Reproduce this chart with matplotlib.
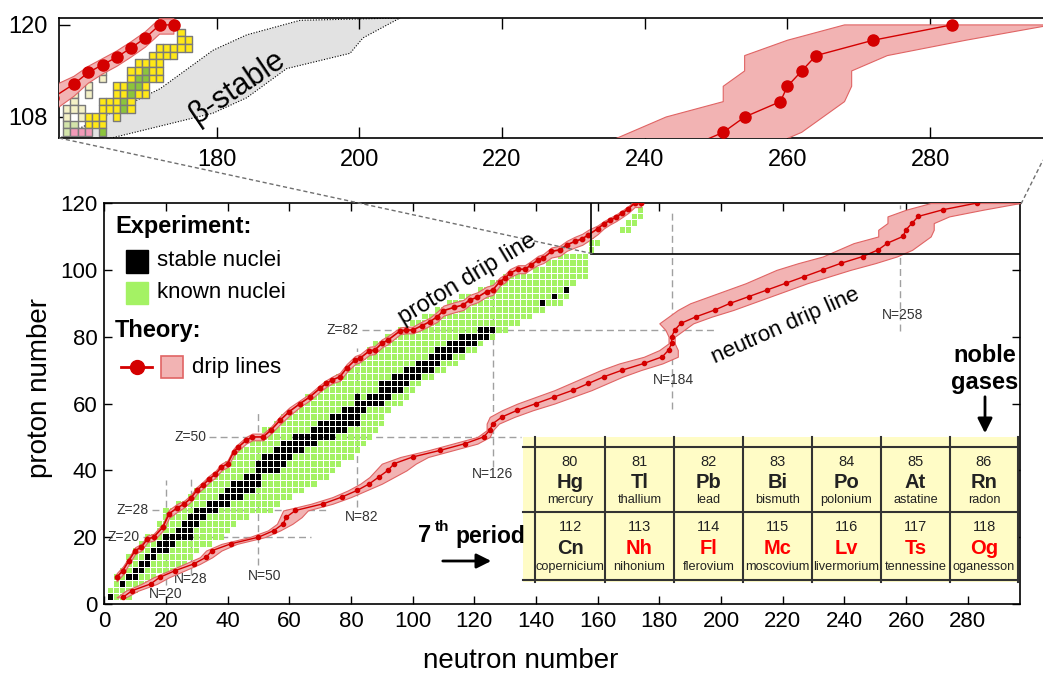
import matplotlib
matplotlib.use("Agg")
import matplotlib.pyplot as plt
from matplotlib.patches import Rectangle, Polygon
from matplotlib.collections import PatchCollection
import numpy as np

plt.rcParams['font.family'] = ['Liberation Sans', 'DejaVu Sans']

# --- experiment: even-even grid, known range of N for each even Z ---
known_z = [2, 4, 6, 8, 10, 12, 14, 16, 18, 20, 22, 24, 26, 28, 30, 32, 34, 36, 38, 40,
           42, 44, 46, 48, 50, 52, 54, 56, 58, 60, 62, 64, 66, 68, 70, 72, 74, 76, 78, 80,
           82, 84, 86, 88, 90, 92, 94, 96, 98, 100, 102, 104, 106, 108, 110, 112, 114, 116, 118]
known_lo = [2, 2, 4, 4, 6, 8, 8, 10, 12, 14, 18, 18, 20, 20, 24, 28, 30, 34, 36, 38,
            40, 42, 44, 48, 50, 52, 56, 58, 62, 64, 66, 70, 72, 76, 80, 82, 84, 86, 88, 92,
            96, 100, 104, 108, 112, 116, 122, 126, 130, 140, 144, 148, 158, 158, 158, 168, 170, 172, 174]
known_hi = [8, 10, 14, 16, 22, 26, 28, 30, 34, 38, 40, 42, 46, 54, 56, 60, 64, 68, 72, 74,
            76, 80, 82, 84, 86, 88, 90, 90, 92, 96, 98, 100, 102, 106, 110, 114, 116, 120, 122, 126,
            130, 134, 138, 142, 148, 150, 150, 152, 156, 156, 156, 156, 158, 160, 158, 170, 172, 174, 174]

# stable even-even nuclei, N values for each Z
stable = {2: [2], 6: [6], 8: [8, 10], 10: [10, 12], 12: [12, 14], 14: [14, 16],
          16: [16, 18, 20], 18: [18, 20, 22], 20: [20, 22, 24, 26, 28], 22: [24, 26, 28],
          24: [26, 28, 30], 26: [28, 30, 32], 28: [30, 32, 34, 36], 30: [34, 36, 38, 40],
          32: [38, 40, 42, 44], 34: [40, 42, 44, 46, 48], 36: [42, 44, 46, 48, 50],
          38: [46, 48, 50], 40: [50, 52, 54, 56], 42: [50, 52, 54, 56, 58],
          44: [52, 54, 56, 58, 60], 46: [56, 58, 60, 62, 64], 48: [58, 60, 62, 64, 66, 68],
          50: [62, 64, 66, 68, 70, 72, 74], 52: [68, 70, 72, 74, 76, 78],
          54: [70, 72, 74, 76, 78, 80, 82], 56: [74, 76, 78, 80, 82], 58: [78, 80, 82, 84],
          60: [82, 84, 86, 88, 90], 62: [82, 86, 88, 90, 92], 64: [90, 92, 94, 96],
          66: [90, 92, 94, 96, 98], 68: [94, 96, 98, 100, 102], 70: [98, 100, 102, 104, 106],
          72: [102, 104, 106, 108], 74: [106, 108, 110, 112], 76: [108, 110, 112, 114, 116],
          78: [112, 114, 116, 118, 120], 80: [116, 118, 120, 122, 124], 82: [122, 124, 126],
          90: [142], 92: [146], 94: [150]}

# --- theory: two-proton drip line (N, Z) with band extent below / above in Z ---
pdl_n = [4, 6, 8, 10, 12, 14, 16, 19, 21, 23.5, 26, 28, 30, 32, 34, 36, 38, 40, 42, 43.5,
         46, 48, 51.5, 54, 57, 60, 63.5, 66.7, 70, 72, 74, 76.4, 78.6, 81.3, 83, 86, 87.7, 90,
         92, 96, 98, 100, 103, 105.6, 108, 110, 113.5, 116.4, 118.5, 121, 124, 126, 128.3, 130,
         131.5, 134.2, 136.4, 138.5, 140.7, 142.3, 145, 147.7, 150, 152.6, 155, 157, 160, 162,
         164, 166, 168, 170, 172, 174]
pdl_z = [8, 10, 13, 16, 17, 19.5, 20, 23, 27, 28.7, 30, 31.6, 34, 35.6, 37.4, 38.8, 41, 42,
         45.6, 47, 49, 50, 50, 52, 55, 57.6, 60, 62, 64.6, 66, 67.1, 68, 70.6, 73, 73.6, 75.8,
         76, 78, 79, 81.8, 82, 82, 83.3, 84.5, 86, 87.8, 88.8, 89.5, 91, 91.8, 93.5, 94, 96.5,
         97.5, 99, 100.2, 100.2, 101.5, 103, 103.5, 105.5, 106, 107.5, 108.5, 109.3, 110.5,
         112.3, 113.8, 114.8, 115.8, 117, 118.3, 120, 120]
pdl_dn = [1.2, 1.2, 1.0, 1.0, 1.0, 1.0, 1.0, 1.0, 1.2, 1.2, 1.0, 1.0, 1.0, 1.0, 1.0, 1.0,
          1.0, 1.0, 1.0, 1.0, 1.0, 1.0, 1.0, 1.0, 1.2, 1.2, 1.0, 1.0, 1.0, 1.0, 1.0, 1.2,
          1.2, 1.2, 1.2, 1.2, 1.2, 1.2, 1.2, 1.0, 1.0, 1.0, 1.2, 1.2, 1.5, 1.5, 1.5, 1.5,
          1.5, 1.5, 1.5, 1.5, 1.2, 1.2, 1.2, 1.2, 1.2, 1.2, 1.5, 1.5, 1.8, 1.8, 1.8, 1.8,
          1.8, 1.8, 1.6, 1.4, 1.2, 1.2, 1.2, 1.2, 1.2, 1.2]
pdl_up = [1.2, 1.2, 1.0, 1.0, 1.0, 1.0, 1.0, 1.0, 1.2, 1.2, 1.0, 1.0, 1.0, 1.0, 1.0, 1.0,
          1.0, 1.0, 1.0, 1.0, 1.0, 1.0, 1.0, 1.0, 1.2, 1.2, 1.0, 1.0, 1.0, 1.0, 1.0, 1.2,
          1.2, 1.2, 1.2, 1.2, 1.2, 1.2, 1.2, 1.0, 1.0, 1.0, 1.2, 1.2, 1.5, 1.5, 1.5, 1.5,
          1.5, 1.5, 1.5, 1.5, 1.2, 1.2, 1.2, 1.2, 1.2, 1.2, 1.2, 1.2, 1.2, 1.2, 1.2, 1.4,
          1.5, 1.5, 1.0, 0.8, 0.8, 0.8, 0.8, 0.8, 0.8, 0.8]

# --- theory: two-neutron drip line, N for each even Z plus the model spread ---
ndl_z = list(range(2, 121, 2))
ndl_n = [6, 9, 15, 18, 23, 29, 33, 35, 41, 50, 55, 58, 59, 62, 71, 77, 82, 86, 89, 92,
         94, 100, 109, 117, 123, 125, 126, 129, 134, 140, 146, 152, 157, 162, 168, 175, 181, 183, 184, 184,
         185, 187, 192, 198, 203, 209, 215, 221, 227, 233, 239, 246, 251, 254, 259, 260, 262, 264, 272, 283]
ndl_lo = [4, 7, 12, 16, 21, 26, 31, 33, 38, 47, 53, 56, 57, 58, 67, 74, 79, 83, 86, 88,
          90, 96, 105, 113, 121, 124, 124, 125, 129, 134, 140, 146, 151, 156, 161, 167, 175, 180, 183, 183,
          182, 180, 183, 186, 190, 196, 202, 208, 213, 218, 225, 233, 238, 243, 251, 251, 254, 254, 260, 268]
ndl_hi = [7, 11, 17, 21, 26, 31, 35, 38, 43, 52, 57, 61, 64, 66, 74, 80, 85, 90, 94, 98,
          101, 105, 113, 121, 125, 126, 128, 133, 139, 146, 152, 158, 163, 168, 174, 181, 186, 186, 185, 185,
          188, 191, 197, 204, 210, 216, 222, 228, 235, 242, 250, 257, 262, 265, 268, 269, 269, 274, 285, 297]

# beta-stability valley in the superheavy region (inset only)
beta_upper_n = [157.9, 172.1, 179.5, 184.2, 191.7, 205.7]
beta_upper_z = [105.2, 111.7, 116.7, 118.7, 120.6, 120.9]
beta_lower_n = [165.0, 179.5, 184.2, 189.8, 198.7, 200.5, 205.7]
beta_lower_z = [105.2, 108.5, 110.5, 114.3, 116.3, 118.3, 120.9]

# superheavy nuclides seen so far, one row per Z (top row first), first column N=159
sh_first_n = 159
sh_top_z = 119
sh_rows = ['................y.',
           '................yy',
           '.............yyyyy',
           '............yyyy..',
           '..........yyyy....',
           '.....p...yygyy....',
           '.....p...yggyy....',
           '.p.p...yyggy......',
           'pp.p...yygyy......',
           '.p...yyygy........',
           'ppp..yyygy........',
           'p.pyyy.y..........',
           'll.yyy............',
           'lrrr.g............']
sh_colors = {'y': '#ffe817', 'g': '#8cc43c', 'p': '#f4f1c6', 'l': '#d3e4aa', 'r': '#f29ab8'}

magic_z = [20, 28, 50, 82]
magic_n = [20, 28, 50, 82, 126, 184, 258]

row1_num = [80, 81, 82, 83, 84, 85, 86]
row1_sym = ['Hg', 'Tl', 'Pb', 'Bi', 'Po', 'At', 'Rn']
row1_name = ['mercury', 'thallium', 'lead', 'bismuth', 'polonium', 'astatine', 'radon']
row2_num = [112, 113, 114, 115, 116, 117, 118]
row2_sym = ['Cn', 'Nh', 'Fl', 'Mc', 'Lv', 'Ts', 'Og']
row2_name = ['copernicium', 'nihonium', 'flerovium', 'moscovium', 'livermorium',
             'tennessine', 'oganesson']
row2_new = [False, True, True, True, True, True, True]

RED = '#d40000'
BAND = '#f2b3b3'
BAND_EDGE = '#e06464'
GREEN = '#a4f264'
GUIDE = '#a0a0a0'

fig = plt.figure(figsize=(10.43, 6.73), dpi=100)

# ---------------- main chart ----------------
ax = fig.add_axes([0.1, 0.1025, 0.878, 0.5958])
ax.set_xlim(0, 297)
ax.set_ylim(0, 120)

cells, stab = [], []
for z, lo, hi in zip(known_z, known_lo, known_hi):
    for n in range(lo, hi + 1, 2):
        cells.append(Rectangle((n - 0.85, z - 0.85), 1.7, 1.7))
for z, ns in stable.items():
    for n in ns:
        stab.append(Rectangle((n - 0.85, z - 0.85), 1.7, 1.7))
ax.add_collection(PatchCollection(cells, facecolor=GREEN, edgecolor='none', zorder=2))
ax.add_collection(PatchCollection(stab, facecolor='black', edgecolor='none', zorder=2.1))

# magic number guides
zspan = {20: (12.5, 67), 28: (15.4, 72), 50: (34, 135), 82: (83.5, 198)}
nspan = {20: (5.7, 37), 28: (8.7, 38), 50: (11.7, 57.6), 82: (29, 76.6),
         126: (41, 96.5), 184: (58.4, 117.5), 258: (81.8, 119.5)}
for z in magic_z:
    ax.plot(zspan[z], [z, z], color=GUIDE, lw=1, dashes=(5, 3), zorder=1)
for n in magic_n:
    ax.plot([n, n], nspan[n], color=GUIDE, lw=1, dashes=(5, 3), zorder=1)

lab = dict(fontsize=10, color='#333333')
ax.text(12.5 - 1, 20, 'Z=20', ha='right', va='center', **lab)
ax.text(15.4 - 1, 28, 'Z=28', ha='right', va='center', **lab)
ax.text(34 - 1, 50, 'Z=50', ha='right', va='center', **lab)
ax.text(83.5 - 1, 82, 'Z=82', ha='right', va='center', **lab)
ax.text(20, 3, 'N=20', ha='center', va='center', **lab)
ax.text(28, 7.5, 'N=28', ha='center', va='center', **lab)
ax.text(52, 8.5, 'N=50', ha='center', va='center', **lab)
ax.text(83.5, 26, 'N=82', ha='center', va='center', **lab)
ax.text(126, 41, 'N=126', ha='center', va='top', **lab)
ax.text(184.5, 67, 'N=184', ha='center', va='center', **lab)
ax.text(259, 86.5, 'N=258', ha='center', va='center', **lab)

# drip lines
pz = np.array(pdl_z)
p_lo = pz - np.array(pdl_dn)
p_hi = pz + np.array(pdl_up)
ax.fill_between(pdl_n, p_lo, p_hi, facecolor=BAND, edgecolor=BAND_EDGE, lw=0.8, zorder=3)
ax.plot(pdl_n, pdl_z, color=RED, lw=1.2, marker='o', ms=3.2, zorder=4)
ax.fill_betweenx(ndl_z, ndl_lo, ndl_hi, facecolor=BAND, edgecolor=BAND_EDGE, lw=0.8, zorder=3)
ax.plot(ndl_n, ndl_z, color=RED, lw=1, marker='o', ms=3, zorder=4)

# zoomed window
ax.add_patch(Rectangle((157.9, 104.8), 140, 20, fill=False, edgecolor='black', lw=1.2, zorder=5))

ax.set_xticks(range(0, 281, 20))
ax.set_yticks(range(0, 121, 20))
ax.tick_params(direction='in', length=6, width=1, top=True, right=True, labelsize=16, pad=5)
for s in ax.spines.values():
    s.set_linewidth(1.2)

# ---------------- inset: superheavy corner ----------------
ins = fig.add_axes([59 / 1043, 1 - 138 / 673, 986 / 1043, 120 / 673])
ins.set_xlim(157.9, 296.1)
ins.set_ylim(105.26, 120.9)

bx = beta_upper_n + beta_lower_n[::-1]
by = beta_upper_z + beta_lower_z[::-1]
ins.add_patch(Polygon(np.column_stack([bx, by]), closed=True, facecolor='#e2e2e2',
                      edgecolor='black', lw=0.8, linestyle=(0, (1, 1.5)), zorder=1))

shc = []
shcol = []
for i, row in enumerate(sh_rows):
    z = sh_top_z - i
    for k, c in enumerate(row):
        if c != '.':
            shc.append(Rectangle((sh_first_n + k - 0.5, z - 0.5), 1.0, 1.0))
            shcol.append(sh_colors[c])
ins.add_collection(PatchCollection(shc, facecolor=shcol, edgecolor='#7a7a7a', lw=1, zorder=2))

ins.fill_between(pdl_n, p_lo, p_hi, facecolor=BAND, edgecolor=BAND_EDGE, lw=0.8, zorder=3)
ins.plot(pdl_n, pdl_z, color=RED, lw=1, marker='o', ms=8, zorder=4)
ins.fill_betweenx(ndl_z, ndl_lo, ndl_hi, facecolor=BAND, edgecolor=BAND_EDGE, lw=0.8, zorder=3)
ins.plot(ndl_n, ndl_z, color=RED, lw=1, marker='o', ms=8, zorder=4)

ins.set_xticks(range(180, 281, 20))
ins.set_yticks([108, 120])
ins.tick_params(direction='in', length=8, width=1, top=True, labelsize=17, pad=8)
for s in ins.spines.values():
    s.set_linewidth(1.2)

# ---------------- annotations in pixel space ----------------
ov = fig.add_axes([0, 0, 1, 1], zorder=10)
ov.set_xlim(0, 1043)
ov.set_ylim(673, 0)
ov.axis('off')

ov.text(521, 661, 'neutron number', fontsize=20, ha='center', va='center')
ov.text(40, 388, 'proton number', fontsize=20, rotation=90, ha='center', va='center')

ov.plot([59, 594], [138, 254], color='#707070', lw=1, dashes=(3, 2))
ov.plot([1021, 1043], [204, 160], color='#707070', lw=1, dashes=(3, 2))

ov.text(238, 87, 'β-stable', fontsize=22, rotation=34, ha='center', va='center')
ov.text(468, 279, 'proton drip line', fontsize=17, rotation=31, ha='center', va='center')
ov.text(786, 326, 'neutron drip line', fontsize=16, rotation=24, ha='center', va='center')

# legend
ov.text(115, 227, 'Experiment:', fontsize=17, fontweight='bold', va='center')
ov.add_patch(Rectangle((126, 250), 22, 23, color='black'))
ov.text(157, 261, 'stable nuclei', fontsize=16, va='center')
ov.add_patch(Rectangle((126, 282), 22, 22, color=GREEN))
ov.text(157, 293, 'known nuclei', fontsize=16, va='center')
ov.text(115, 331, 'Theory:', fontsize=17, fontweight='bold', va='center')
ov.plot([121, 152], [367, 367], color=RED, lw=2)
ov.plot([137], [367], 'o', color=RED, ms=10)
ov.add_patch(Rectangle((161, 356), 22, 22, facecolor=BAND, edgecolor=BAND_EDGE, lw=1.2))
ov.text(192, 368, 'drip lines', fontsize=16, va='center')

# periodic table strip
ov.add_patch(Rectangle((523, 437), 495, 145, facecolor='#fffcc6', edgecolor='none'))
vx = [535, 605, 674, 743, 812, 881, 950, 1018]
for x in vx:
    ov.plot([x, x], [437, 582], color='#333333', lw=1.5)
for y in [447, 512, 580]:
    ov.plot([523, 1018], [y, y], color='#333333', lw=1.5)
for i in range(7):
    cx = (vx[i] + vx[i + 1]) / 2
    ov.text(cx, 462, str(row1_num[i]), fontsize=10.5, ha='center', va='center', color='#222222')
    ov.text(cx, 482, row1_sym[i], fontsize=14.5, fontweight='bold', ha='center', va='center', color='#222222')
    ov.text(cx, 500, row1_name[i], fontsize=9.2, ha='center', va='center', color='#222222')
    col = '#ff0000' if row2_new[i] else '#222222'
    ov.text(cx, 527, str(row2_num[i]), fontsize=10.5, ha='center', va='center', color='#222222')
    ov.text(cx, 549, row2_sym[i], fontsize=14.5, fontweight='bold', ha='center', va='center', color=col)
    ov.text(cx, 567, row2_name[i], fontsize=9.2, ha='center', va='center', color='#222222')

ov.text(985, 356, 'noble', fontsize=17, fontweight='bold', ha='center', va='center')
ov.text(985, 382, 'gases', fontsize=17, fontweight='bold', ha='center', va='center')
ov.annotate('', xy=(985, 436), xytext=(985, 394),
            arrowprops=dict(arrowstyle='-|>', lw=2, color='black', mutation_scale=22))

ov.text(425, 536, '7', fontsize=17, fontweight='bold', ha='center', va='center')
ov.text(442, 527, 'th', fontsize=11, fontweight='bold', ha='center', va='center')
ov.text(455, 536, 'period', fontsize=16.5, fontweight='bold', ha='left', va='center')
ov.annotate('', xy=(494, 561), xytext=(440, 561),
            arrowprops=dict(arrowstyle='-|>', lw=2, color='black', mutation_scale=22))

fig.savefig('out.png', dpi=100)
